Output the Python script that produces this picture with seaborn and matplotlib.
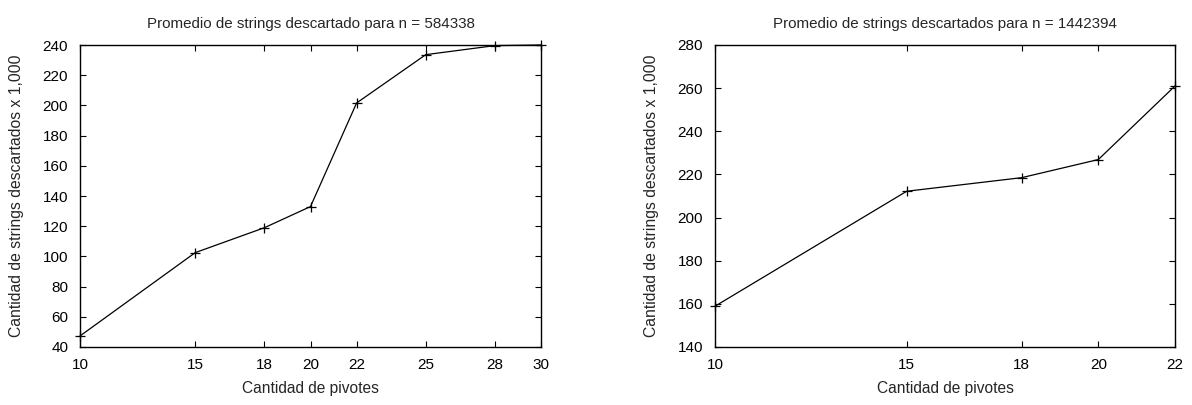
import matplotlib
matplotlib.use("Agg")
import matplotlib.pyplot as plt
import seaborn as sns
import pandas as pd

# Left chart data
pivotes_a = [10, 15, 18, 20, 22, 25, 28, 30]
descartados_a = [47.3, 102.5, 119.0, 133.0, 201.6, 233.6, 239.6, 240.0]
ticks_a = [10, 15, 18, 20, 22, 25, 28, 30]
yticks_a = [40, 60, 80, 100, 120, 140, 160, 180, 200, 220, 240]

# Right chart data
pivotes_b = [10, 15, 18, 20, 22]
descartados_b = [158.9, 212.2, 218.5, 226.9, 261.0]
ticks_b = [10, 15, 18, 20, 22]
yticks_b = [140, 160, 180, 200, 220, 240, 260, 280]

title_a = "Promedio de strings descartado para n = 584338"
title_b = "Promedio de strings descartados para n = 1442394"
xlabel = "Cantidad de pivotes"
ylabel = "Cantidad de strings descartados x 1,000"

sns.set_theme(style="ticks")
plt.rcParams['font.family'] = ['Liberation Sans', 'DejaVu Sans']

fig = plt.figure(figsize=(11.92, 4.05), dpi=100)
ax1 = fig.add_axes([80 / 1192, 1 - 347 / 405, 461 / 1192, 302 / 405])
ax2 = fig.add_axes([715 / 1192, 1 - 347 / 405, 460 / 1192, 302 / 405])

specs = [
    (ax1, pivotes_a, descartados_a, ticks_a, yticks_a, title_a, (10, 30), (40, 240)),
    (ax2, pivotes_b, descartados_b, ticks_b, yticks_b, title_b, (10, 22), (140, 280)),
]

for ax, xs, ys, xt, yt, title, xl, yl in specs:
    df = pd.DataFrame({"x": xs, "y": ys})
    sns.lineplot(data=df, x="x", y="y", ax=ax, color="black", linewidth=0.9,
                 marker="+", markersize=6.5, markeredgewidth=0.9,
                 markeredgecolor="black", clip_on=False)
    ax.set_xlim(*xl)
    ax.set_ylim(*yl)
    ax.set_xticks(xt)
    ax.set_yticks(yt)
    ax.set_title(title, fontsize=10.9, pad=12)
    ax.set_xlabel(xlabel, fontsize=11.2, labelpad=6.5)
    ax.set_ylabel(ylabel, fontsize=11.3, labelpad=13.5)
    ax.tick_params(axis="both", direction="in", length=4, width=0.8, top=True, right=True,
                   labelsize=11, colors="black")
    ax.tick_params(axis="y", pad=8.5)
    ax.tick_params(axis="x", pad=8)
    for s in ax.spines.values():
        s.set_linewidth(1.0)
        s.set_color("black")

fig.savefig("out.png", dpi=100)
